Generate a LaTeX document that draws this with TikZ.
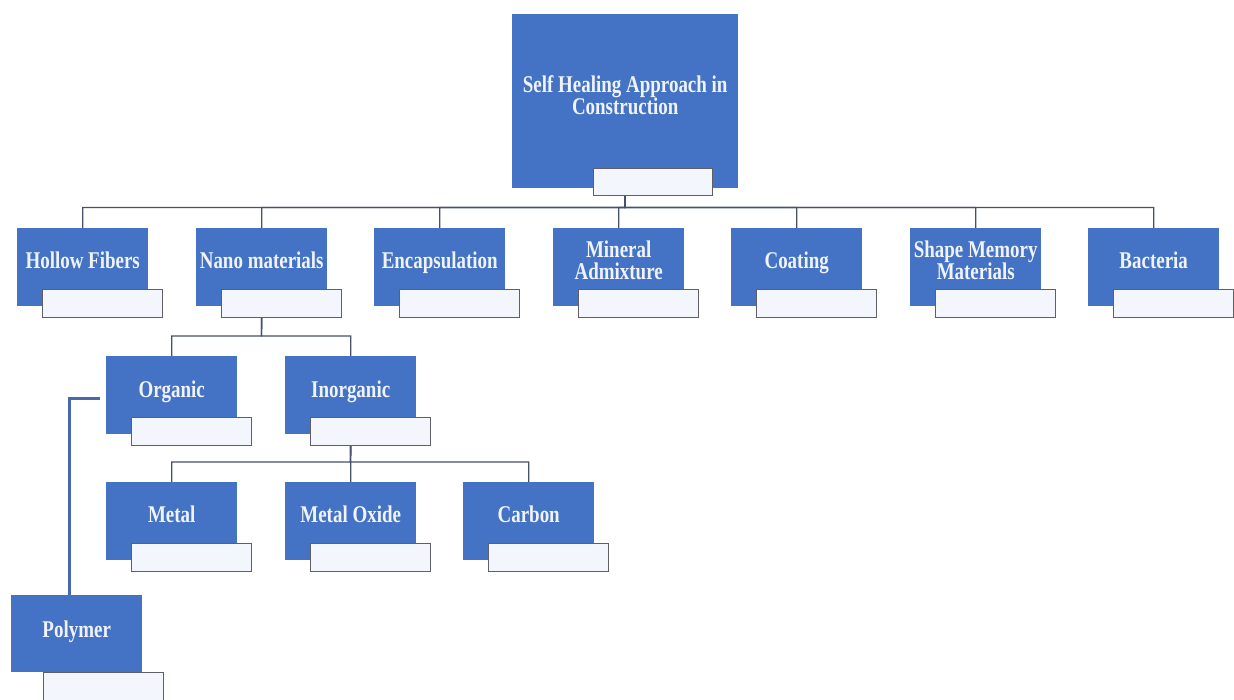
\documentclass[tikz,border=0pt]{standalone}
\usepackage{fontspec}
\newfontfamily\boxfont[FakeStretch=0.79]{Liberation Serif}
\definecolor{boxblue}{RGB}{68,114,196}
\definecolor{txtcol}{RGB}{240,244,250}
\definecolor{wfill}{RGB}{243,246,252}
\definecolor{wbord}{RGB}{95,95,100}
\definecolor{conncol}{RGB}{70,82,105}
\definecolor{pconncol}{RGB}{72,104,170}
\pgfdeclarelayer{bg}
\pgfsetlayers{bg,main}
\tikzset{
  bluebox/.style={rectangle, draw=none, fill=boxblue, anchor=north west, minimum width=131pt, minimum height=78pt, inner sep=0pt},
  wbox/.style={rectangle, draw=wbord, line width=1.2pt, fill=wfill, anchor=north west, minimum width=120pt, minimum height=28pt, inner sep=0pt},
  lbl/.style={text=txtcol, font=\boxfont\bfseries\fontsize{24}{22}\selectfont, align=center, inner sep=0pt},
  conn/.style={draw=conncol, line width=1.4pt},
  pconn/.style={draw=pconncol, line width=3pt}
}
\newcommand\mkbox[6]{%
  \node[bluebox] (#1) at (#2,#3) {};
  \node[wbox] (#1W) at ([xshift=25pt,yshift=-61pt]#1.north west) {};
  \node[lbl,anchor=#4] (#1T) at ([yshift=-#5pt]#1.north) {#6};%
}
\begin{document}
\begin{tikzpicture}[x=1pt,y=-1pt]
\begin{pgfonlayer}{bg}
  \fill[white] (0,0) rectangle (1234,699);
\end{pgfonlayer}
\useasboundingbox (0,0) rectangle (1234,699);

% top box
\node[bluebox, minimum width=226pt, minimum height=174pt] (top) at (512,14) {};
\node[wbox, minimum width=119pt, minimum height=27pt] (topW) at (593,168) {};
\node[lbl, anchor=center] (topT) at ([yshift=-81pt]top.north) {Self Healing Approach in\\Construction};

% row 1
\mkbox{hf}{17}{228}{base}{40}{Hollow Fibers}
\mkbox{nm}{196}{228}{base}{40}{Nano materials}
\mkbox{en}{374}{228}{base}{40}{Encapsulation}
\mkbox{ma}{553}{228}{center}{32}{Mineral\\Admixture}
\mkbox{co}{731}{228}{base}{40}{Coating}
\mkbox{sm}{910}{228}{center}{32}{Shape Memory\\Materials}
\mkbox{ba}{1088}{228}{base}{40}{Bacteria}

% row 2
\mkbox{org}{106}{356}{base}{41}{Organic}
\mkbox{ino}{285}{356}{base}{41}{Inorganic}

% row 3
\mkbox{me}{106}{482}{base}{40}{Metal}
\mkbox{mo}{285}{482}{base}{40}{Metal Oxide}
\mkbox{ca}{463}{482}{base}{40}{Carbon}

% polymer
\node[bluebox, minimum height=77pt] (poly) at (11,595) {};
\node[wbox] (polyW) at (43,672) {};
\node[lbl, anchor=base] (polyT) at ([yshift=-42pt]poly.north) {Polymer};

% connectors
\coordinate (b1) at (625,207.5);
\coordinate (b2) at (261.5,336);
\coordinate (b3) at (350.5,462);
\coordinate (pk) at ([xshift=-6pt,yshift=-3.5pt]org.west);
\begin{pgfonlayer}{bg}
  \foreach \n in {hf,nm,en,ma,co,sm,ba}
    \draw[conn] (top.south) -- (b1) -| (\n.north);
  \foreach \n in {org,ino}
    \draw[conn] (nm.south) -- (b2) -| (\n.north);
  \foreach \n in {me,mo,ca}
    \draw[conn] (ino.south) -- (b3) -| (\n.north);
  \draw[pconn] (pk) -| ([xshift=-7pt]poly.north);
\end{pgfonlayer}
\end{tikzpicture}
\end{document}
